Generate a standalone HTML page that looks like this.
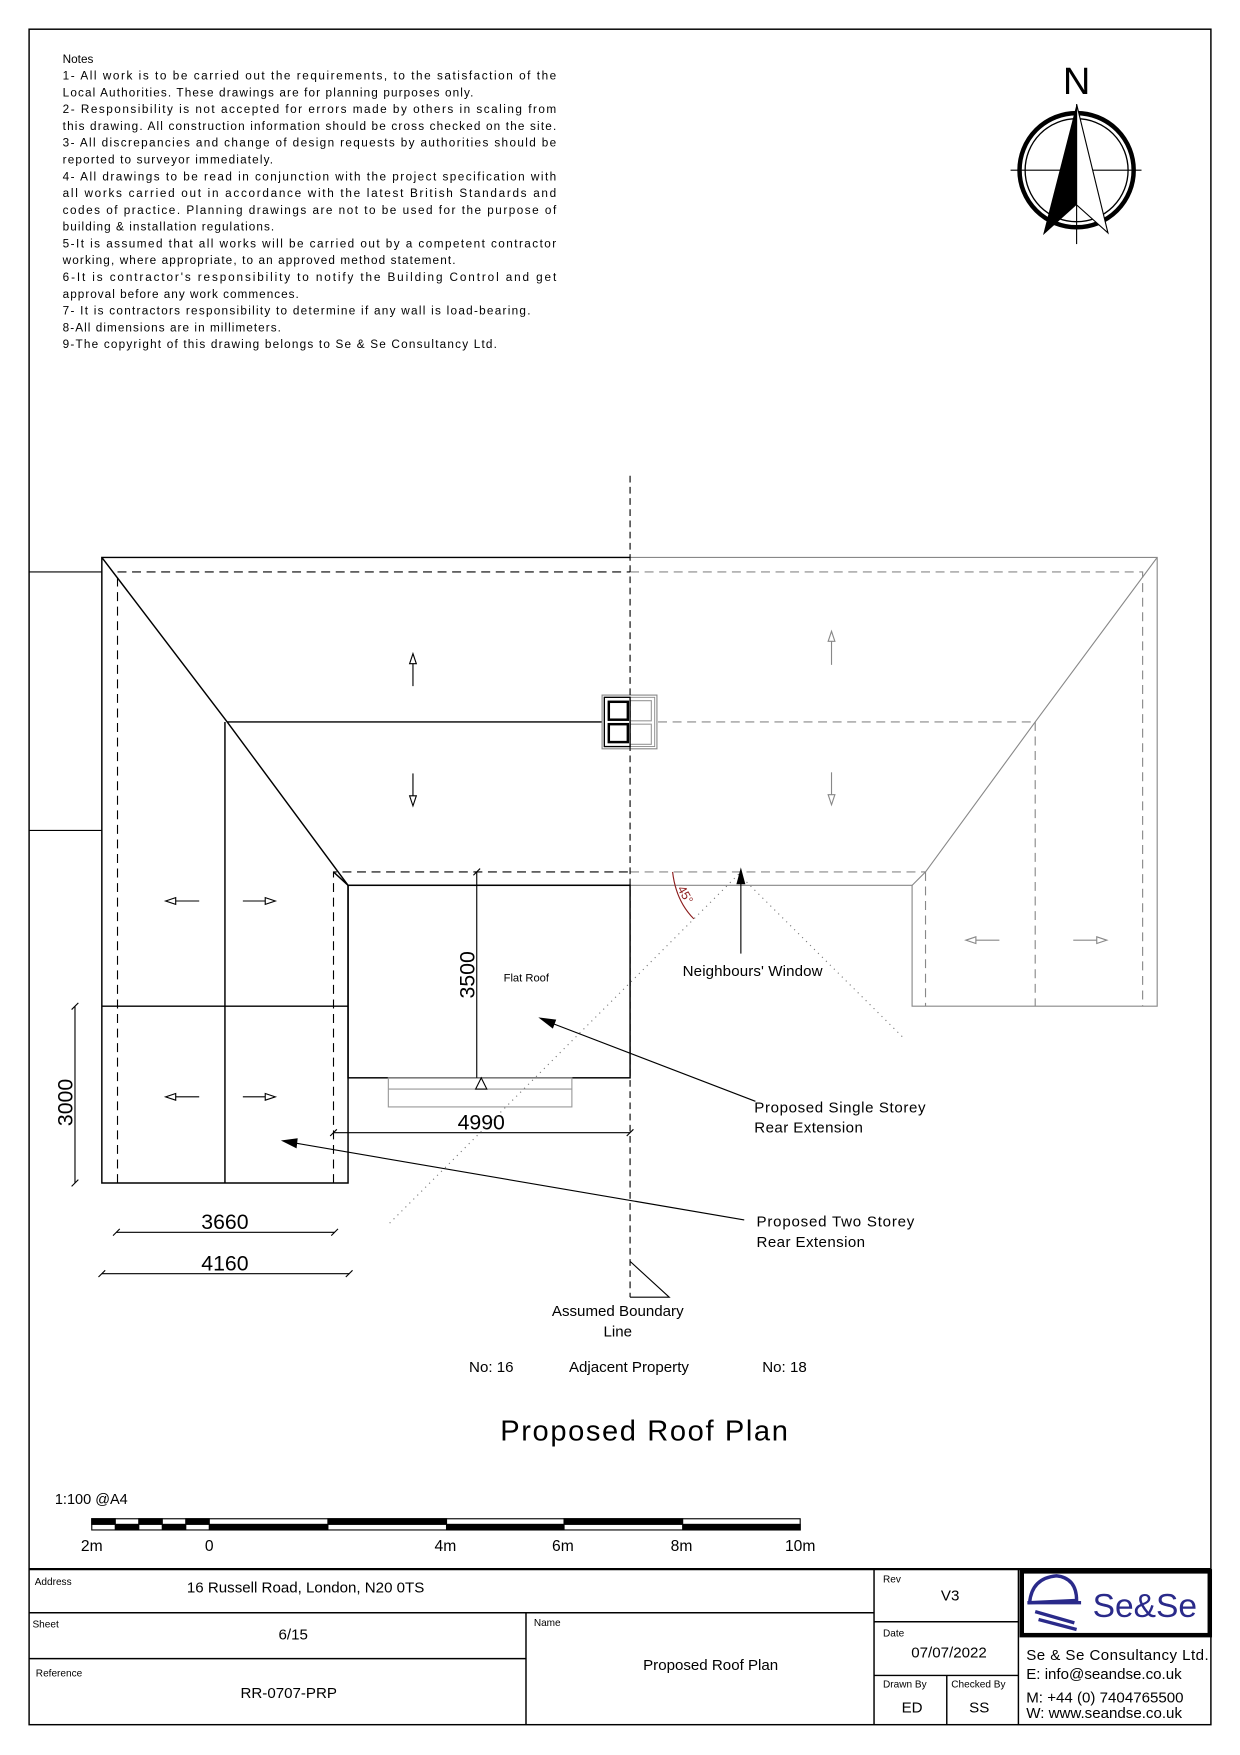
<!DOCTYPE html>
<html><head><meta charset="utf-8"><style>
html,body{margin:0;padding:0;background:#fff}
svg{display:block}
text{font-family:"Liberation Sans",sans-serif;fill:#000}
</style></head><body>
<svg width="1240" height="1755" viewBox="0 0 1108 1568" xmlns="http://www.w3.org/2000/svg">
<rect x="0" y="0" width="1108" height="1568" fill="#fff"/>
<rect x="26" y="26" width="1056" height="1515" fill="none" stroke="#000" stroke-width="1.3"/>

<!-- Notes -->
<g font-size="10.5">
<text x="56" y="56">Notes</text>
<text x="56" y="71" textLength="441" lengthAdjust="spacing">1- All work is to be carried out the requirements, to the satisfaction of the</text>
<text x="56" y="86" textLength="367" lengthAdjust="spacing">Local Authorities. These drawings are for planning purposes only.</text>
<text x="56" y="101" textLength="441" lengthAdjust="spacing">2- Responsibility is not accepted for errors made by others in scaling from</text>
<text x="56" y="116" textLength="441" lengthAdjust="spacing">this drawing. All construction information should be cross checked on the site.</text>
<text x="56" y="131" textLength="441" lengthAdjust="spacing">3- All discrepancies and change of design requests by authorities should be</text>
<text x="56" y="146" textLength="188" lengthAdjust="spacing">reported to surveyor immediately.</text>
<text x="56" y="161" textLength="441" lengthAdjust="spacing">4- All drawings to be read in conjunction with the project specification with</text>
<text x="56" y="176" textLength="441" lengthAdjust="spacing">all works carried out in accordance with the latest British Standards and</text>
<text x="56" y="191" textLength="441" lengthAdjust="spacing">codes of practice. Planning drawings are not to be used for the purpose of</text>
<text x="56" y="206" textLength="189" lengthAdjust="spacing">building &amp; installation regulations.</text>
<text x="56" y="221" textLength="441" lengthAdjust="spacing">5-It is assumed that all works will be carried out by a competent contractor</text>
<text x="56" y="236" textLength="351" lengthAdjust="spacing">working, where appropriate, to an approved method statement.</text>
<text x="56" y="251" textLength="441" lengthAdjust="spacing">6-It is contractor's responsibility to notify the Building Control and get</text>
<text x="56" y="266" textLength="211" lengthAdjust="spacing">approval before any work commences.</text>
<text x="56" y="281" textLength="418" lengthAdjust="spacing">7- It is contractors responsibility to determine if any wall is load-bearing.</text>
<text x="56" y="296" textLength="195" lengthAdjust="spacing">8-All dimensions are in millimeters.</text>
<text x="56" y="311" textLength="388" lengthAdjust="spacing">9-The copyright of this drawing belongs to Se &amp; Se Consultancy Ltd.</text>
</g>

<!-- North arrow -->
<g>
<text x="962" y="84" font-size="34" text-anchor="middle">N</text>
<circle cx="962" cy="152" r="51" fill="none" stroke="#000" stroke-width="4"/>
<circle cx="962" cy="152" r="46" fill="none" stroke="#000" stroke-width="1.2"/>
<line x1="903" y1="152" x2="1020" y2="152" stroke="#000" stroke-width="1"/>
<line x1="962" y1="160" x2="962" y2="218" stroke="#000" stroke-width="1"/>
<polygon points="962,93 932,210 962,183" fill="#000"/>
<polygon points="962,93 990,208 962,183" fill="#fff" stroke="#000" stroke-width="1"/>
</g>

<g stroke="#000" stroke-width="1" fill="none">
<line x1="26" y1="511" x2="91" y2="511"/>
<line x1="26" y1="742" x2="91" y2="742"/>
</g>

<!-- Neighbour (grey) -->
<g stroke="#888" stroke-width="1" fill="none">
<polyline points="563,498 1034,498 1034,899 815,899 815,791 563,791"/>
<polyline points="1034,498 925,645 827,779 815,791"/>
<g stroke-dasharray="8,5">
<polyline points="563,511 1021,511 1021,899"/>
<line x1="588" y1="645" x2="925" y2="645"/>
<line x1="925" y1="645" x2="925" y2="899"/>
<line x1="563" y1="779" x2="827" y2="779"/>
<line x1="827" y1="779" x2="827" y2="899"/>
</g>
</g>

<!-- Main building -->
<g stroke="#000" stroke-width="1.3" fill="none">
<polyline points="563,498 91,498 91,1057 311,1057 311,791 563,791"/>
<rect x="311" y="791" width="252" height="172"/>
<polyline points="91,498 203,645 311,791"/>
<line x1="203" y1="645" x2="538" y2="645"/>
<line x1="201" y1="645" x2="201" y2="1057"/>
<line x1="91" y1="899" x2="311" y2="899"/>
<line x1="298" y1="779" x2="311" y2="791"/>
</g>
<g stroke="#000" stroke-width="1" fill="none" stroke-dasharray="8,5">
<polyline points="105,1057 105,511 563,511"/>
<polyline points="298,1057 298,779 563,779"/>
</g>

<!-- chimney -->
<g fill="none">
<rect x="538" y="621" width="49" height="48" stroke="#888" stroke-width="1"/>
<rect x="540" y="623" width="45" height="44" stroke="#888" stroke-width="0.8"/>
<rect x="563" y="626" width="19" height="18" stroke="#999" stroke-width="1"/>
<rect x="563" y="647" width="19" height="18" stroke="#999" stroke-width="1"/>
<rect x="540" y="623" width="23" height="44" stroke="#000" stroke-width="1.2"/>
<rect x="544" y="627" width="17" height="16" stroke="#000" stroke-width="2.2"/>
<rect x="544" y="647" width="17" height="16" stroke="#000" stroke-width="2.2"/>
</g>

<line x1="563" y1="425" x2="563" y2="1159" stroke="#000" stroke-width="1" stroke-dasharray="6,4"/>
<polyline points="563,1127 598,1159 563,1159" fill="none" stroke="#000" stroke-width="1"/>

<!-- roof arrows -->
<g stroke="#000" stroke-width="1" fill="#fff">
<line x1="369" y1="592" x2="369" y2="613"/><polygon points="369,584 366,593 372,593"/>
<line x1="369" y1="691" x2="369" y2="712"/><polygon points="369,720 366,711 372,711"/>
<line x1="156" y1="805" x2="178" y2="805"/><polygon points="148,805 157,802 157,808"/>
<line x1="217" y1="805" x2="238" y2="805"/><polygon points="246,805 237,802 237,808"/>
<line x1="156" y1="980" x2="178" y2="980"/><polygon points="148,980 157,977 157,983"/>
<line x1="217" y1="980" x2="238" y2="980"/><polygon points="246,980 237,977 237,983"/>
</g>
<g stroke="#888" stroke-width="1" fill="#fff">
<line x1="743" y1="572" x2="743" y2="594"/><polygon points="743,564 740,573 746,573"/>
<line x1="743" y1="690" x2="743" y2="711"/><polygon points="743,719 740,710 746,710"/>
<line x1="871" y1="840" x2="893" y2="840"/><polygon points="863,840 872,837 872,843"/>
<line x1="959" y1="840" x2="981" y2="840"/><polygon points="989,840 980,837 980,843"/>
</g>

<g stroke="#999" stroke-width="1" fill="none">
<rect x="347" y="963" width="164" height="26"/>
<line x1="347" y1="973" x2="511" y2="973"/>
</g>
<polygon points="430,963 425,973 435,973" fill="#fff" stroke="#000" stroke-width="1"/>

<!-- dimensions -->
<g stroke="#000" stroke-width="1">
<line x1="426" y1="779" x2="426" y2="963"/>
<line x1="423" y1="782" x2="429" y2="776"/>
<line x1="298" y1="1012" x2="563" y2="1012"/>
<line x1="295" y1="1015" x2="301" y2="1009"/><line x1="560" y1="1015" x2="566" y2="1009"/>
<line x1="67" y1="899" x2="67" y2="1057"/>
<line x1="64" y1="902" x2="70" y2="896"/><line x1="64" y1="1060" x2="70" y2="1054"/>
<line x1="104" y1="1101" x2="299" y2="1101"/>
<line x1="101" y1="1104" x2="107" y2="1098"/><line x1="296" y1="1104" x2="302" y2="1098"/>
<line x1="91" y1="1138" x2="312" y2="1138"/>
<line x1="88" y1="1141" x2="94" y2="1135"/><line x1="309" y1="1141" x2="315" y2="1135"/>
</g>
<g font-size="19">
<text transform="translate(424,871) rotate(-90)" text-anchor="middle">3500</text>
<text x="430" y="1009" text-anchor="middle">4990</text>
<text transform="translate(65,985) rotate(-90)" text-anchor="middle">3000</text>
<text x="201" y="1098" text-anchor="middle">3660</text>
<text x="201" y="1135" text-anchor="middle">4160</text>
</g>
<text x="450" y="877" font-size="10">Flat Roof</text>

<g stroke="#777" stroke-width="1" stroke-dasharray="1,4" fill="none">
<line x1="660" y1="781" x2="348" y2="1093"/>
<line x1="660" y1="781" x2="808" y2="928"/>
</g>
<path d="M601,779 Q604,805 620,821" fill="none" stroke="#8b1a1a" stroke-width="1"/>
<text transform="translate(605,794) rotate(60)" font-size="11" style="fill:#8b1a1a">45°</text>

<g stroke="#000" stroke-width="1">
<line x1="662" y1="852" x2="662" y2="786"/>
<line x1="675" y1="984" x2="490" y2="913"/>
<line x1="665" y1="1090" x2="262" y2="1021"/>
</g>
<polygon points="662,775 658,790 666,790" fill="#000"/>
<polygon points="481,909 497,911 494,919" fill="#000"/>
<polygon points="251,1019 266,1017 265,1026" fill="#000"/>

<g font-size="13.5">
<text x="610" y="872" textLength="125" lengthAdjust="spacing">Neighbours' Window</text>
<text x="674" y="994" textLength="153" lengthAdjust="spacing">Proposed Single Storey</text>
<text x="674" y="1012" textLength="97" lengthAdjust="spacing">Rear Extension</text>
<text x="676" y="1096" textLength="141" lengthAdjust="spacing">Proposed Two Storey</text>
<text x="676" y="1114" textLength="97" lengthAdjust="spacing">Rear Extension</text>
<text x="552" y="1176" text-anchor="middle">Assumed Boundary</text>
<text x="552" y="1194" text-anchor="middle">Line</text>
<text x="439" y="1226" text-anchor="middle">No: 16</text>
<text x="562" y="1226" text-anchor="middle">Adjacent Property</text>
<text x="701" y="1226" text-anchor="middle">No: 18</text>
</g>
<text x="447" y="1287" font-size="26" textLength="257" lengthAdjust="spacing">Proposed Roof Plan</text>
<text x="49" y="1344" font-size="13">1:100  @A4</text>

<!-- scale bar -->
<g stroke="#000" stroke-width="1">
<rect x="82" y="1357" width="633" height="10" fill="#fff"/>
<rect x="82" y="1357" width="21" height="5" fill="#000"/>
<rect x="103" y="1362" width="21" height="5" fill="#000"/>
<rect x="124" y="1357" width="21" height="5" fill="#000"/>
<rect x="145" y="1362" width="21" height="5" fill="#000"/>
<rect x="166" y="1357" width="21" height="5" fill="#000"/>
<rect x="187" y="1362" width="106" height="5" fill="#000"/>
<rect x="293" y="1357" width="106" height="5" fill="#000"/>
<rect x="399" y="1362" width="105" height="5" fill="#000"/>
<rect x="504" y="1357" width="106" height="5" fill="#000"/>
<rect x="610" y="1362" width="105" height="5" fill="#000"/>
</g>
<g font-size="14" text-anchor="middle">
<text x="82" y="1386">2m</text><text x="187" y="1386">0</text><text x="398" y="1386">4m</text>
<text x="503" y="1386">6m</text><text x="609" y="1386">8m</text><text x="715" y="1386">10m</text>
</g>

<!-- title block -->
<g stroke="#000" stroke-width="1.3" fill="none">
<line x1="26" y1="1402" x2="1082" y2="1402" stroke-width="2"/>
<line x1="26" y1="1441" x2="781" y2="1441"/>
<line x1="26" y1="1482" x2="470" y2="1482"/>
<line x1="470" y1="1441" x2="470" y2="1541"/>
<line x1="781" y1="1402" x2="781" y2="1541"/>
<line x1="910" y1="1402" x2="910" y2="1541"/>
<line x1="781" y1="1449" x2="910" y2="1449"/>
<line x1="781" y1="1497" x2="910" y2="1497"/>
<line x1="846" y1="1497" x2="846" y2="1541"/>
<rect x="913" y="1404" width="168" height="57" stroke-width="4"/>
</g>
<g font-size="9">
<text x="31" y="1416">Address</text><text x="29" y="1454">Sheet</text><text x="32" y="1498">Reference</text>
<text x="477" y="1453">Name</text><text x="789" y="1414">Rev</text><text x="789" y="1462">Date</text>
<text x="789" y="1508">Drawn By</text><text x="850" y="1508">Checked By</text>
</g>
<g font-size="13.5">
<text x="167" y="1423">16 Russell Road, London, N20 0TS</text>
<text x="262" y="1465" text-anchor="middle">6/15</text>
<text x="258" y="1517" text-anchor="middle">RR-0707-PRP</text>
<text x="635" y="1492" text-anchor="middle">Proposed Roof Plan</text>
<text x="849" y="1430" text-anchor="middle">V3</text>
<text x="848" y="1481" text-anchor="middle">07/07/2022</text>
<text x="815" y="1530" text-anchor="middle">ED</text>
<text x="875" y="1530" text-anchor="middle">SS</text>
<text x="917" y="1483" textLength="163" lengthAdjust="spacing">Se &amp; Se Consultancy Ltd.</text>
<text x="917" y="1500">E: info@seandse.co.uk</text>
<text x="917" y="1521">M: +44 (0) 7404765500</text>
<text x="917" y="1535">W: www.seandse.co.uk</text>
</g>
<g>
<path d="M920,1432 Q922,1410 944,1408 Q962,1410 962,1430 Z" fill="none" stroke="#2a2a8a" stroke-width="3"/>
<path d="M918,1432 L966,1432" stroke="#2a2a8a" stroke-width="3"/>
<path d="M925,1440 L960,1450 M928,1447 L962,1456" stroke="#2a2a8a" stroke-width="3"/>
<text x="1023" y="1445" font-size="30" text-anchor="middle" style="fill:#2a2a8a">Se&amp;Se</text>
</g>
</svg>
</body></html>
